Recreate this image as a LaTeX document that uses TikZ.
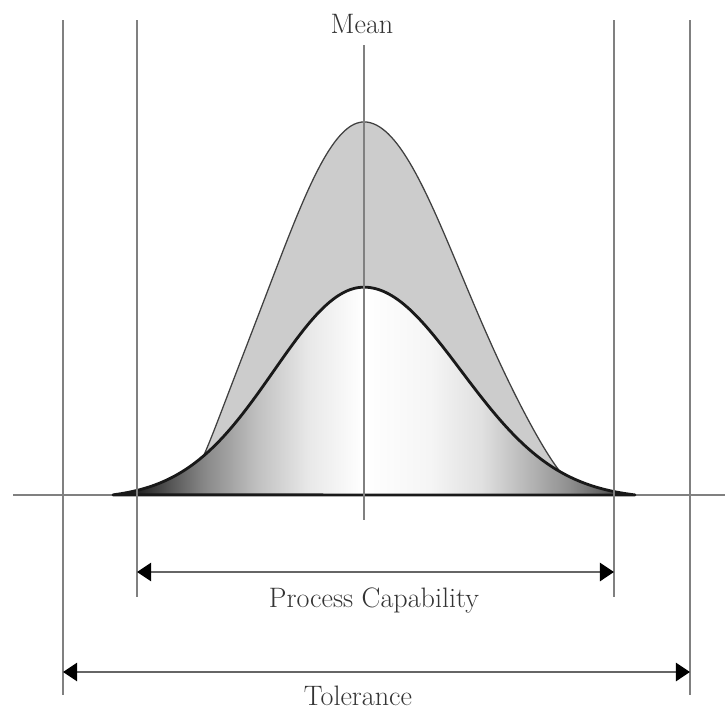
\documentclass[tikz,border=0pt]{standalone}
\usepackage{tikz}
\usetikzlibrary{arrows.meta}
\pgfdeclarehorizontalshading{bellshade}{100bp}{%
  color(0bp)=(black!90); color(25bp)=(black!90); color(27.6bp)=(black!85);
  color(30.7bp)=(black!65); color(33.7bp)=(black!47); color(38.7bp)=(black!25);
  color(43.7bp)=(black!9); color(49bp)=(white); color(55.4bp)=(black!4);
  color(60.3bp)=(black!12); color(65.4bp)=(black!31); color(68.7bp)=(black!44);
  color(72bp)=(black!62); color(73.5bp)=(black!75); color(75bp)=(black!90);
  color(100bp)=(black!90)}

\begin{document}
\begin{tikzpicture}[
  x=0.025cm, y=-0.025cm,
  font=\fontsize{20}{24}\selectfont,
  >={Triangle[length=10pt,width=13pt,color=black]},
  declare function={
    flatL(\t)=212*exp(-0.5*(\t/90)*(\t/90))-4.2;
    flatR(\t)=212*exp(-0.5*(\t/97)*(\t/97))-4.2;
    tallL(\t)=373*exp(-0.5*(\t/88)*(\t/88)-((\t/169)*(\t/169))^5);
    tallR(\t)=373*exp(-0.5*(\t/95)*(\t/95)-((\t/205)*(\t/205))^5);
  },
  % ---- line styles ----
  guide/.style={draw=black!50, line width=1.3pt},
  dimline/.style={draw=black!60, line width=1.3pt, <->},
  tallbell/.style={draw=black!75, line width=0.9pt, fill=black!20},
  flatbell/.style={draw=black!90, line width=2pt, line join=round, shading=bellshade},
  lbl/.style={text=black!80, anchor=base, inner sep=0pt},
]
\useasboundingbox (0,0) rectangle (725,711);

% ---- end points ----
\coordinate (axL) at (13,495);   \coordinate (axR) at (725,495);
\coordinate (tolLt) at (63,20);  \coordinate (tolLb) at (63,695);
\coordinate (tolRt) at (690,20); \coordinate (tolRb) at (690,695);
\coordinate (pcLt) at (137,20);  \coordinate (pcLb) at (137,597);
\coordinate (pcRt) at (614,20);  \coordinate (pcRb) at (614,597);
\coordinate (mnt) at (364,45);   \coordinate (mnb) at (364,520);
\coordinate (pcL) at (137,572);  \coordinate (pcR) at (614,572);
\coordinate (tolL) at (63,672);  \coordinate (tolR) at (690,672);

% ---- axis ----
\draw[guide] (axL) -- (axR);

% ---- tall curve (gray) ----
\filldraw[tallbell]
  plot[domain=-200:0, samples=80] ({364+\x},{495-tallL(\x)})
  -- plot[domain=0:240, samples=80] ({364+\x},{495-tallR(\x)}) -- cycle;

% ---- flat curve (shaded) ----
\shadedraw[flatbell]
  plot[domain=-251:0, samples=90] ({364+\x},{495-flatL(\x)})
  -- plot[domain=0:271, samples=90] ({364+\x},{495-flatR(\x)}) -- cycle;

% ---- limits and mean ----
\draw[guide] (tolLt) -- (tolLb);
\draw[guide] (tolRt) -- (tolRb);
\draw[guide] (pcLt) -- (pcLb);
\draw[guide] (pcRt) -- (pcRb);
\draw[guide] (mnt) -- (mnb);

% ---- dimensions ----
\draw[dimline] (pcL) -- (pcR);
\draw[dimline] (tolL) -- (tolR);

% ---- labels ----
\node[lbl] (meanlbl) at (362,33) {Mean};
\node[lbl] (pclbl) at (374,607) {Process Capability};
\node[lbl] (tollbl) at (358,705) {Tolerance};

\end{tikzpicture}
\end{document}
